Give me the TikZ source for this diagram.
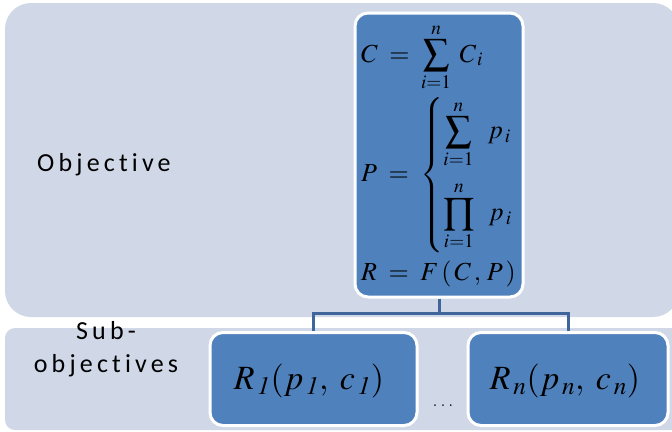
\documentclass[tikz,border=0pt]{standalone}
\usepackage[no-math]{fontspec}
\usepackage{amsmath}
\usepackage{mathptmx}
\newfontfamily\labelfont[LetterSpace=16,Ligatures=NoCommon]{Carlito}
\definecolor{panel}{HTML}{D0D8E8}
\definecolor{boxblue}{HTML}{4F81BD}
\definecolor{linkblue}{HTML}{3F659A}
\tikzset{
  panelbg/.style={fill=panel, draw=none},
  bluebox/.style={draw=white, line width=3bp, fill=boxblue, rounded corners=13bp, inner sep=0pt},
  link/.style={draw=linkblue, line width=3bp},
  lbl/.style={font=\labelfont\fontsize{26bp}{33bp}\selectfont, text=black, inner sep=0pt},
  eq/.style={font=\fontsize{26bp}{30bp}\selectfont, text=black, inner sep=0pt},
  subeq/.style={font=\fontsize{34bp}{38bp}\selectfont, text=black, inner sep=0pt}
}
\begin{document}
\begin{tikzpicture}[x=1bp,y=-1bp]
\useasboundingbox (0,0) rectangle (672,431);
\clip (0,0) rectangle (672,431);
% panels
\fill[panelbg, rounded corners=26bp] (5,3) rectangle (679,317);
\fill[panelbg, rounded corners=10bp] (5,328) rectangle (700,430);
% labels
\node[lbl, anchor=base west] (obj) at (37,171) {Objective};
\node[lbl, align=center, anchor=base] (sub) at (106,372) {Sub-\\objectives};
% main box
\node[bluebox, minimum width=168bp, minimum height=284bp] (main) at (439,155) {};
\node[eq, anchor=base west] (ceq) at (361,62) {$\displaystyle C \;=\; \sum_{i=1}^{n}\; C_{\,i}$};
\node[eq, anchor=west] (peq) at (361,175) {$\displaystyle P \;=\; \left\{\begin{array}{@{}l@{}}
  \displaystyle\sum_{i=1}^{n}\;\; p_{\,i}\\[34bp]
  \displaystyle\prod_{i=1}^{n}\;\; p_{\,i}
\end{array}\right.$};
\node[eq, anchor=base west] (req) at (361,280) {$R \;=\; F\,(\,C\,,\,P\,)$};
% sub boxes
\node[bluebox, minimum width=207bp, minimum height=93bp] (r1) at (313.5,379) {};
\node[bluebox, minimum width=200bp, minimum height=93bp] (rn) at (568,379) {};
\node[subeq] (t1) at (309,381) {$R_{\,\mathit{1}}(p_{\,\mathit{1}},\; c_{\,\mathit{1}})$};
\node[subeq] (tn) at (565,381) {$R_{\,n}(p_{\,n},\; c_{\,n})$};
\node[font=\fontsize{16bp}{18bp}\selectfont, inner sep=0pt, anchor=base] (dots) at (443,406) {$.\;.\;.$};
% connectors
\coordinate (mid) at (439,313);
\draw[link] (main.south) -- (mid);
\draw[link] (r1.north) -- (r1.north |- mid) -- (rn.north |- mid) -- (rn.north);
\end{tikzpicture}
\end{document}
